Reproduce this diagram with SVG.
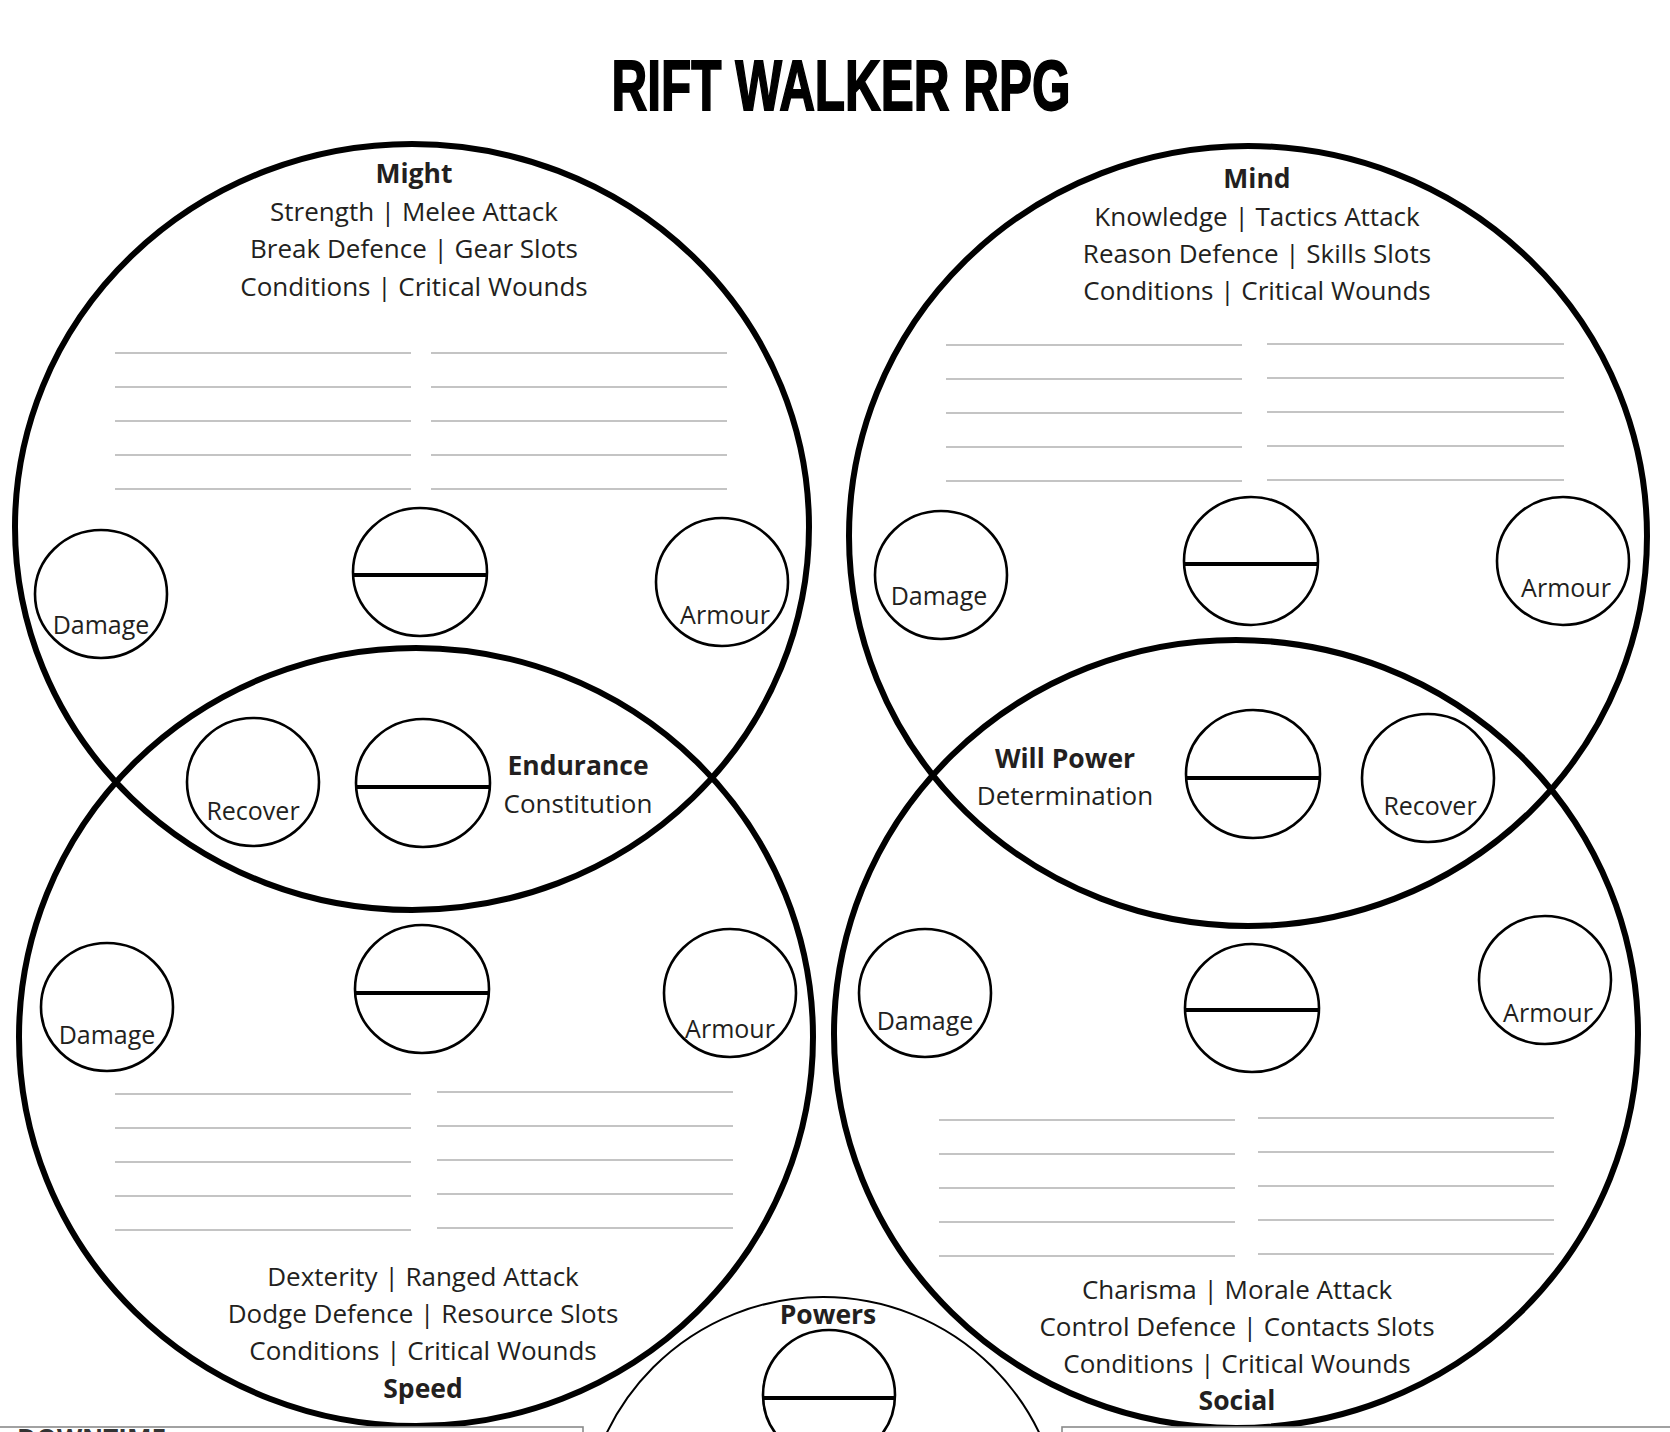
<svg xmlns="http://www.w3.org/2000/svg" width="1670" height="1432" viewBox="0 0 1670 1432">
<style>
.big{fill:none;stroke:#000;stroke-width:6}
.sm{fill:none;stroke:#000;stroke-width:2.6}
.div{stroke:#000;stroke-width:4}
.row{stroke:#b0b0b0;stroke-width:1.6}
.t{font-family:"Open Sans","Noto Sans",sans-serif;font-size:26px;fill:#231f20;text-anchor:middle}
.h{font-family:"Open Sans","Noto Sans",sans-serif;font-size:26.5px;font-weight:bold;fill:#231f20;text-anchor:middle}
.lb{font-family:"Open Sans","Noto Sans",sans-serif;font-size:25px;fill:#231f20;text-anchor:middle}
</style>
<rect width="1670" height="1432" fill="#fff"/>
<text x="841" y="110" font-family="Liberation Sans, Arial, sans-serif" font-weight="bold" font-size="71" textLength="459" lengthAdjust="spacingAndGlyphs" text-anchor="middle" fill="#000" stroke="#000" stroke-width="1.8">RIFT WALKER RPG</text>

<g id="might">
<ellipse class="big" cx="412" cy="527" rx="397" ry="383"/>
<text class="h" x="414" y="183">Might</text>
<text class="t" x="414" y="221">Strength | Melee Attack</text>
<text class="t" x="414" y="258">Break Defence | Gear Slots</text>
<text class="t" x="414" y="296">Conditions | Critical Wounds</text>
<g class="row">
<line x1="115" y1="353" x2="411" y2="353"/><line x1="431" y1="353" x2="727" y2="353"/>
<line x1="115" y1="387" x2="411" y2="387"/><line x1="431" y1="387" x2="727" y2="387"/>
<line x1="115" y1="421" x2="411" y2="421"/><line x1="431" y1="421" x2="727" y2="421"/>
<line x1="115" y1="455" x2="411" y2="455"/><line x1="431" y1="455" x2="727" y2="455"/>
<line x1="115" y1="489" x2="411" y2="489"/><line x1="431" y1="489" x2="727" y2="489"/>
</g>
<g id="might-damage"><ellipse class="sm" cx="101" cy="594" rx="66" ry="64"/><text class="lb" x="101" y="634">Damage</text></g>
<g id="might-score"><ellipse class="sm" cx="420" cy="572" rx="67" ry="64"/><line class="div" x1="353" y1="575" x2="487" y2="575"/></g>
<g id="might-armour"><ellipse class="sm" cx="722" cy="582" rx="66" ry="64"/><text class="lb" x="725" y="624">Armour</text></g>
</g>

<g id="speed">
<ellipse class="big" cx="416" cy="1037" rx="397" ry="389"/>
<g class="row">
<line x1="115" y1="1094" x2="411" y2="1094"/><line x1="437" y1="1092" x2="733" y2="1092"/>
<line x1="115" y1="1128" x2="411" y2="1128"/><line x1="437" y1="1126" x2="733" y2="1126"/>
<line x1="115" y1="1162" x2="411" y2="1162"/><line x1="437" y1="1160" x2="733" y2="1160"/>
<line x1="115" y1="1196" x2="411" y2="1196"/><line x1="437" y1="1194" x2="733" y2="1194"/>
<line x1="115" y1="1230" x2="411" y2="1230"/><line x1="437" y1="1228" x2="733" y2="1228"/>
</g>
<text class="t" x="423" y="1286">Dexterity | Ranged Attack</text>
<text class="t" x="423" y="1323">Dodge Defence | Resource Slots</text>
<text class="t" x="423" y="1360">Conditions | Critical Wounds</text>
<text class="h" x="423" y="1398">Speed</text>
<g id="speed-damage"><ellipse class="sm" cx="107" cy="1007" rx="66" ry="64"/><text class="lb" x="107" y="1044">Damage</text></g>
<g id="speed-score"><ellipse class="sm" cx="422" cy="989" rx="67" ry="64"/><line class="div" x1="355" y1="993" x2="489" y2="993"/></g>
<g id="speed-armour"><ellipse class="sm" cx="730" cy="993" rx="66" ry="64"/><text class="lb" x="730" y="1038">Armour</text></g>
</g>

<g id="endurance">
<g id="endurance-recover"><ellipse class="sm" cx="253" cy="782" rx="66" ry="64"/><text class="lb" x="253" y="820">Recover</text></g>
<g id="endurance-score"><ellipse class="sm" cx="423" cy="783" rx="67" ry="64"/><line class="div" x1="356" y1="787" x2="490" y2="787"/></g>
<text class="h" x="578" y="775">Endurance</text>
<text class="t" x="578" y="813">Constitution</text>
</g>

<g id="mind">
<ellipse class="big" cx="1248" cy="536" rx="399" ry="390"/>
<text class="h" x="1257" y="188">Mind</text>
<text class="t" x="1257" y="226">Knowledge | Tactics Attack</text>
<text class="t" x="1257" y="263">Reason Defence | Skills Slots</text>
<text class="t" x="1257" y="300">Conditions | Critical Wounds</text>
<g class="row">
<line x1="946" y1="345" x2="1242" y2="345"/><line x1="1267" y1="344" x2="1564" y2="344"/>
<line x1="946" y1="379" x2="1242" y2="379"/><line x1="1267" y1="378" x2="1564" y2="378"/>
<line x1="946" y1="413" x2="1242" y2="413"/><line x1="1267" y1="412" x2="1564" y2="412"/>
<line x1="946" y1="447" x2="1242" y2="447"/><line x1="1267" y1="446" x2="1564" y2="446"/>
<line x1="946" y1="481" x2="1242" y2="481"/><line x1="1267" y1="480" x2="1564" y2="480"/>
</g>
<g id="mind-damage"><ellipse class="sm" cx="941" cy="575" rx="66" ry="64"/><text class="lb" x="939" y="605">Damage</text></g>
<g id="mind-score"><ellipse class="sm" cx="1251" cy="561" rx="67" ry="64"/><line class="div" x1="1184" y1="564" x2="1318" y2="564"/></g>
<g id="mind-armour"><ellipse class="sm" cx="1563" cy="561" rx="66" ry="64"/><text class="lb" x="1566" y="597">Armour</text></g>
</g>

<g id="social">
<ellipse class="big" cx="1236" cy="1034" rx="402" ry="394"/>
<g class="row">
<line x1="939" y1="1120" x2="1235" y2="1120"/><line x1="1258" y1="1118" x2="1554" y2="1118"/>
<line x1="939" y1="1154" x2="1235" y2="1154"/><line x1="1258" y1="1152" x2="1554" y2="1152"/>
<line x1="939" y1="1188" x2="1235" y2="1188"/><line x1="1258" y1="1186" x2="1554" y2="1186"/>
<line x1="939" y1="1222" x2="1235" y2="1222"/><line x1="1258" y1="1220" x2="1554" y2="1220"/>
<line x1="939" y1="1256" x2="1235" y2="1256"/><line x1="1258" y1="1254" x2="1554" y2="1254"/>
</g>
<text class="t" x="1237" y="1299">Charisma | Morale Attack</text>
<text class="t" x="1237" y="1336">Control Defence | Contacts Slots</text>
<text class="t" x="1237" y="1373">Conditions | Critical Wounds</text>
<text class="h" x="1237" y="1410">Social</text>
<g id="social-damage"><ellipse class="sm" cx="925" cy="993" rx="66" ry="64"/><text class="lb" x="925" y="1030">Damage</text></g>
<g id="social-score"><ellipse class="sm" cx="1252" cy="1008" rx="67" ry="64"/><line class="div" x1="1185" y1="1010" x2="1319" y2="1010"/></g>
<g id="social-armour"><ellipse class="sm" cx="1545" cy="980" rx="66" ry="64"/><text class="lb" x="1548" y="1022">Armour</text></g>
</g>

<g id="willpower">
<text class="h" x="1065" y="768">Will Power</text>
<text class="t" x="1065" y="805">Determination</text>
<g id="willpower-score"><ellipse class="sm" cx="1253" cy="774" rx="67" ry="64"/><line class="div" x1="1186" y1="778" x2="1320" y2="778"/></g>
<g id="willpower-recover"><ellipse class="sm" cx="1428" cy="778" rx="66" ry="64"/><text class="lb" x="1430" y="815">Recover</text></g>
</g>

<g id="powers">
<ellipse fill="none" stroke="#000" stroke-width="2" cx="823" cy="1537" rx="240" ry="240"/>
<text class="h" x="828" y="1324">Powers</text>
<ellipse class="sm" cx="829" cy="1395" rx="66" ry="65"/>
<line class="div" x1="763" y1="1398" x2="895" y2="1398"/>
</g>

<g id="downtime">
<rect x="-3" y="1427" width="586" height="40" fill="#fff" stroke="#8a8a8a" stroke-width="1.6"/>
<text x="17" y="1448" font-family="Open Sans, Noto Sans, sans-serif" font-weight="bold" font-size="26" fill="#333">DOWNTIME</text>
</g>
<g id="box-right">
<rect x="1062" y="1427" width="615" height="40" fill="#fff" stroke="#8a8a8a" stroke-width="1.6"/>
</g>
<g id="connectors"></g>
</svg>
